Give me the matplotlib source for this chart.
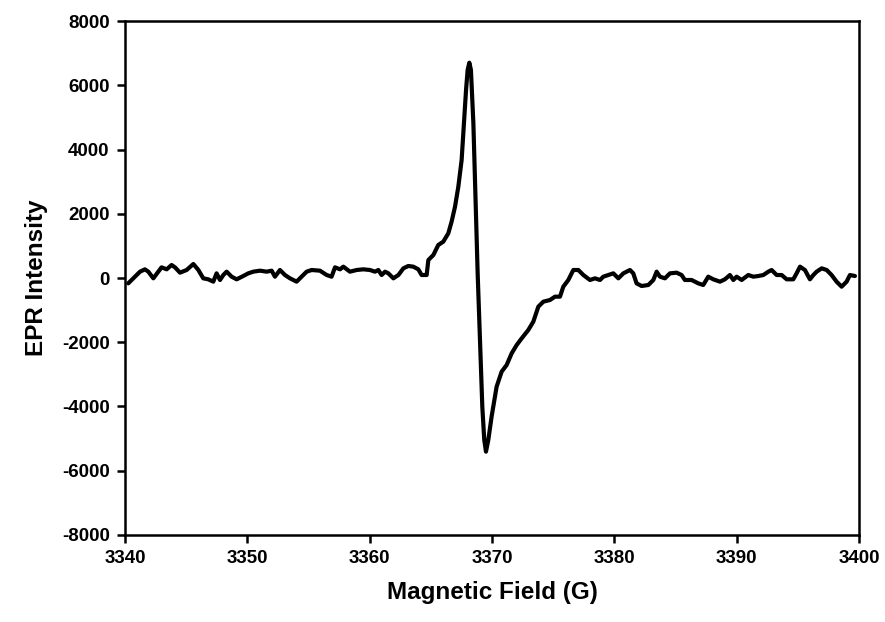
import matplotlib.pyplot as plt
import numpy as np

# EPR spectrum
field = [
    3340.27, 3340.68, 3341.23, 3341.63, 3341.91, 3342.32, 3342.72, 3342.99,
    3343.41, 3343.81, 3344.09, 3344.50, 3345.04, 3345.59, 3346.00, 3346.40,
    3346.81, 3347.22, 3347.49, 3347.77, 3348.04, 3348.31, 3348.72, 3349.13,
    3349.67, 3350.08, 3350.49, 3351.04, 3351.58, 3351.99, 3352.26, 3352.67,
    3353.08, 3353.49, 3354.03, 3354.44, 3354.85, 3355.26, 3355.94, 3356.49,
    3356.89, 3357.17, 3357.58, 3357.85, 3358.39, 3358.94, 3359.48, 3360.03,
    3360.44, 3360.71, 3360.98, 3361.26, 3361.53, 3361.94, 3362.35, 3362.76,
    3363.16, 3363.57, 3363.98, 3364.25, 3364.66,
    3364.80, 3365.21, 3365.61, 3366.02, 3366.43, 3366.70, 3366.98, 3367.25,
    3367.52, 3367.71, 3367.88, 3368.01, 3368.15, 3368.28, 3368.48, 3368.67,
    3368.83, 3369.02, 3369.21, 3369.37, 3369.51, 3369.70, 3369.97, 3370.38,
    3370.79, 3371.20, 3371.61, 3372.02, 3372.43, 3372.97, 3373.38, 3373.79,
    3374.20, 3374.74, 3375.15, 3375.56, 3375.83, 3376.24, 3376.65, 3377.06,
    3377.47, 3378.01, 3378.42, 3378.83,
    3379.10, 3379.51, 3379.92, 3380.33, 3380.74,
    3381.28, 3381.55, 3381.82, 3382.23, 3382.78, 3383.19, 3383.46, 3383.73,
    3384.14, 3384.55, 3385.09, 3385.50, 3385.77, 3386.32, 3386.86, 3387.27,
    3387.68, 3388.09, 3388.64, 3389.04, 3389.45, 3389.73, 3390.00, 3390.41,
    3390.95, 3391.36, 3391.77, 3392.18, 3392.59, 3392.86, 3393.27, 3393.68,
    3394.09, 3394.63, 3394.90, 3395.18, 3395.58, 3395.99, 3396.27, 3396.54,
    3396.95, 3397.36, 3397.76, 3398.17, 3398.58, 3398.99, 3399.26, 3399.67,
]
intensity = [
    -166, -10, 197, 270, 197, -10, 197, 332,
    270, 405, 332, 166, 249, 436, 249, -10,
    -41, -114, 145, -62, 93, 197, 41, -41,
    62, 145, 197, 228, 197, 228, 41, 249,
    93, -10, -114, 41, 197, 249, 228, 93,
    41, 332, 270, 353, 197, 249, 270, 249,
    197, 249, 93, 197, 145, -10, 93, 301,
    374, 353, 270, 93, 93,
    560, 716, 1027, 1131, 1390, 1754, 2221, 2843,
    3673, 4815, 5852, 6475, 6703, 6475, 4815, 2221,
    145, -1930, -4005, -5043, -5406, -5043, -4316, -3383,
    -2916, -2708, -2345, -2086, -1878, -1619, -1359, -892,
    -737, -685, -581, -581, -270, -62, 249, 249,
    93, -62, -10, -62,
    41, 93, 145, -10, 145,
    249, 145, -166, -249, -218, -62, 197, 41,
    -10, 145, 166, 93, -62, -62, -166, -218,
    41, -41, -114, -41, 93, -62, 41, -62,
    93, 41, 62, 93, 197, 249, 93, 93,
    -41, -41, 145, 353, 249, -41, 93, 197,
    301, 249, 93, -114, -270, -114, 93, 62,
]

xticks = [3340, 3350, 3360, 3370, 3380, 3390, 3400]
yticks = [-8000, -6000, -4000, -2000, 0, 2000, 4000, 6000, 8000]

plt.rcParams['font.family'] = ['Liberation Sans', 'DejaVu Sans']
plt.rcParams['font.weight'] = 'bold'
plt.rcParams['axes.unicode_minus'] = False

fig = plt.figure(figsize=(8.85, 6.22), dpi=100)
ax = fig.add_axes([0.1412, 0.1399, 0.8294, 0.8263])

ax.plot(field, intensity, color='black', linewidth=3.0,
        solid_joinstyle='round', solid_capstyle='round')

ax.set_xlim(3340, 3400)
ax.set_ylim(-8000, 8000)
ax.set_xticks(xticks)
ax.set_yticks(yticks)
ax.tick_params(direction='out', length=6, width=1.8, labelsize=13.5, pad=5)
for s in ax.spines.values():
    s.set_linewidth(1.8)

ax.set_xlabel("Magnetic Field (G)", fontsize=17.5, fontweight='bold', labelpad=10)
ax.set_ylabel("EPR Intensity", fontsize=17.5, fontweight='bold', labelpad=10)

fig.savefig('out.png', dpi=100)
